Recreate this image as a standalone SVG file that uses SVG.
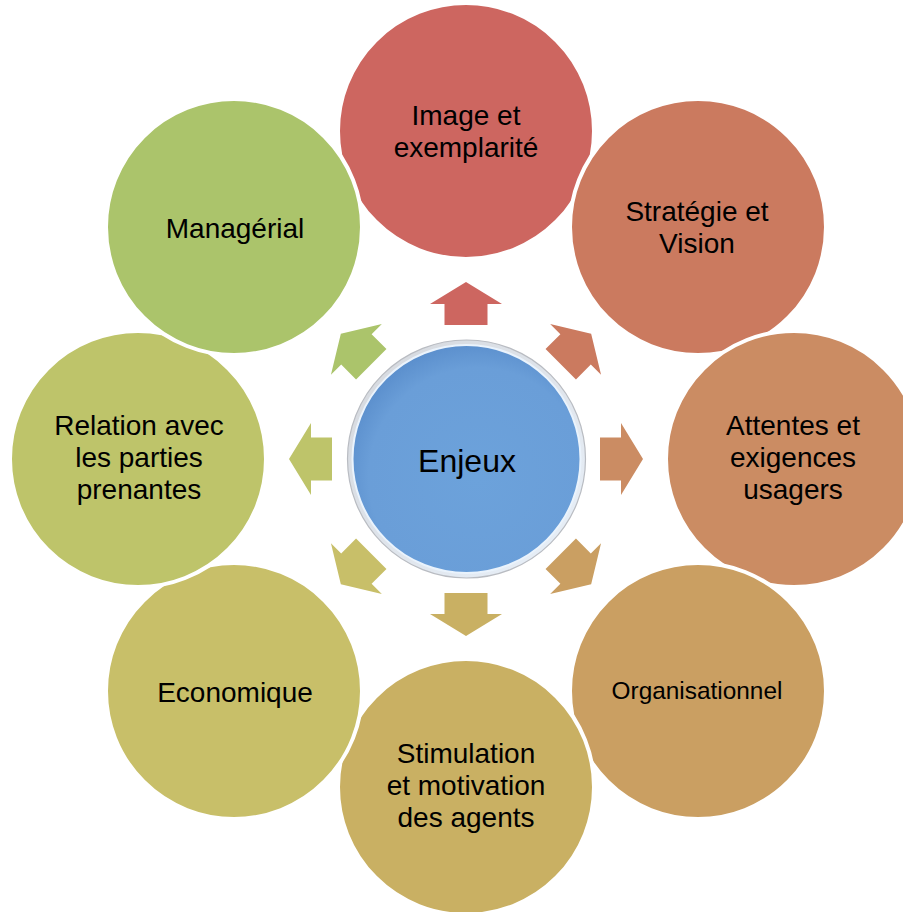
<svg xmlns="http://www.w3.org/2000/svg" width="903" height="912" viewBox="0 0 903 912">
  <style>
    .node { stroke: #ffffff; stroke-width: 4; }
    .lbl { font-family: "Liberation Sans", Arial, sans-serif; font-size: 28px; fill: #000000; text-anchor: middle; }
    .small { font-size: 24.4px; }
  </style>
  <defs>
    <radialGradient id="blueGrad" cx="0.55" cy="0.58" r="0.6">
      <stop offset="0" stop-color="#6CA2DB"/>
      <stop offset="0.8" stop-color="#6A9ED8"/>
      <stop offset="1" stop-color="#5A8ECC"/>
    </radialGradient>
    <linearGradient id="ringGrad" x1="0" y1="0" x2="1" y2="1">
      <stop offset="0" stop-color="#d4d7dc"/>
      <stop offset="1" stop-color="#e9f1fa"/>
    </linearGradient>
    <polygon id="arrow" points="134,-21.5 155,-21.5 155,-36 177,0 155,36 155,21.5 134,21.5"/>
  </defs>
  <rect x="0" y="0" width="903" height="912" fill="#ffffff"/>

  <g id="node-image">
    <circle class="node" cx="466" cy="131" r="128" fill="#CD6660"/>
    <text class="lbl" x="466" y="125">Image et</text>
    <text class="lbl" x="466" y="157">exemplarité</text>
  </g>
  <g id="node-strategie">
    <circle class="node" cx="698" cy="227" r="128" fill="#CB7A5F"/>
    <text class="lbl" x="697" y="221">Stratégie et</text>
    <text class="lbl" x="697" y="253">Vision</text>
  </g>
  <g id="node-attentes">
    <circle class="node" cx="794" cy="459" r="128" fill="#CB8C63"/>
    <text class="lbl" x="793" y="435">Attentes et</text>
    <text class="lbl" x="793" y="467">exigences</text>
    <text class="lbl" x="793" y="499">usagers</text>
  </g>
  <g id="node-organisationnel">
    <circle class="node" cx="698" cy="691" r="128" fill="#CA9F62"/>
    <text class="lbl small" x="697" y="699">Organisationnel</text>
  </g>
  <g id="node-stimulation">
    <circle class="node" cx="466" cy="787" r="128" fill="#C9B063"/>
    <text class="lbl" x="466" y="763">Stimulation</text>
    <text class="lbl" x="466" y="795">et motivation</text>
    <text class="lbl" x="466" y="827">des agents</text>
  </g>
  <g id="node-economique">
    <circle class="node" cx="234" cy="691" r="128" fill="#C8BF69"/>
    <text class="lbl" x="235" y="702">Economique</text>
  </g>
  <g id="node-relation">
    <circle class="node" cx="138" cy="459" r="128" fill="#BEC46A"/>
    <text class="lbl" x="139" y="435">Relation avec</text>
    <text class="lbl" x="139" y="467">les parties</text>
    <text class="lbl" x="139" y="499">prenantes</text>
  </g>
  <g id="node-managerial">
    <circle class="node" cx="234" cy="227" r="128" fill="#ABC46B"/>
    <text class="lbl" x="235" y="238">Managérial</text>
  </g>

  <g id="connectors">
    <use href="#arrow" transform="translate(466,459) rotate(-90)" fill="#CD6660"/>
    <use href="#arrow" transform="translate(466,459) rotate(-45)" fill="#CB7A5F"/>
    <use href="#arrow" transform="translate(466,459) rotate(0)" fill="#CB8C63"/>
    <use href="#arrow" transform="translate(466,459) rotate(45)" fill="#CA9F62"/>
    <use href="#arrow" transform="translate(466,459) rotate(90)" fill="#C9B063"/>
    <use href="#arrow" transform="translate(466,459) rotate(135)" fill="#C8BF69"/>
    <use href="#arrow" transform="translate(466,459) rotate(180)" fill="#BEC46A"/>
    <use href="#arrow" transform="translate(466,459) rotate(225)" fill="#ABC46B"/>
  </g>

  <g id="node-enjeux">
    <circle cx="466.5" cy="459" r="119" fill="url(#ringGrad)" stroke="#b9bcc2" stroke-width="1.2"/>
    <circle cx="466.5" cy="459" r="114" fill="url(#blueGrad)" stroke="#eaf3fc" stroke-width="2"/>
    <text class="lbl" x="467" y="472" style="font-size:32px">Enjeux</text>
  </g>
</svg>
